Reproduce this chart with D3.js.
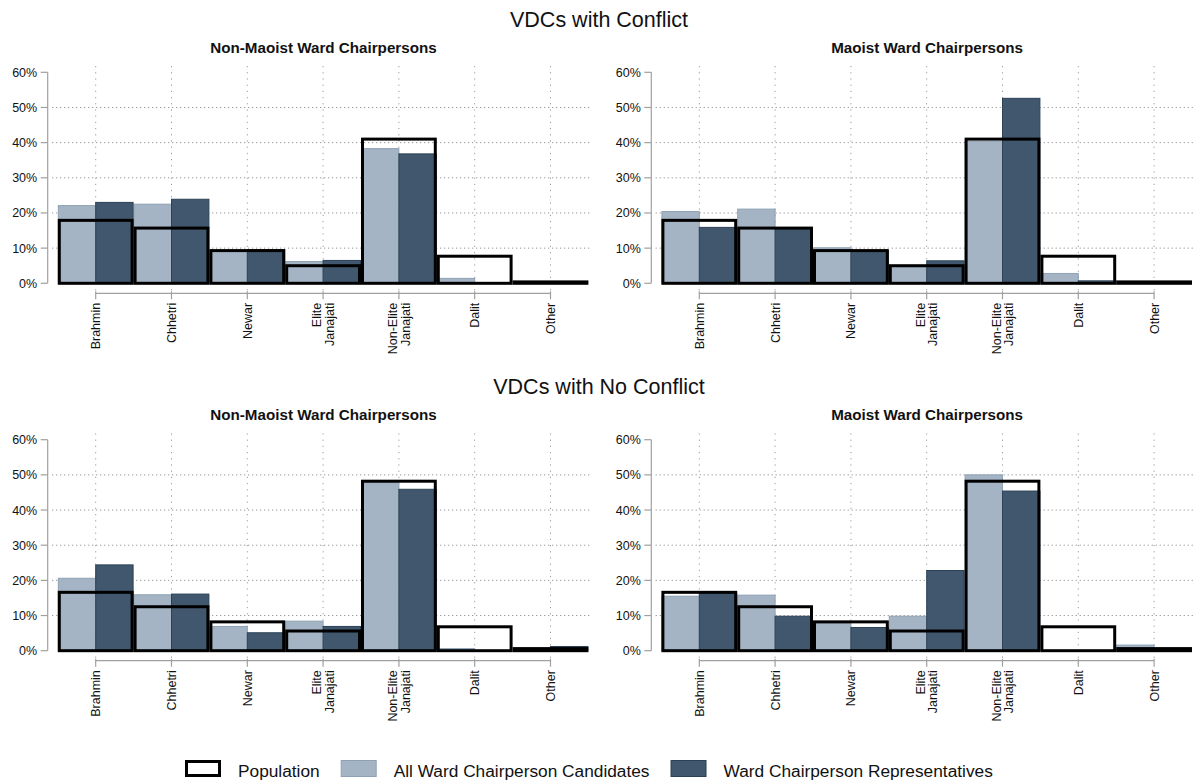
<!DOCTYPE html>
<html>
<head>
<meta charset="utf-8">
<script src="https://cdn.jsdelivr.net/npm/d3@7"></script>
<style>
  body { margin: 0; background: #fff; }
  svg text { font-family: "Liberation Sans", Arial, sans-serif; fill: #111; }
</style>
</head>
<body>
<svg id="chart" width="1198" height="783"></svg>
<script>
// Caste / ethnic groups along the x axis
const categories = ["Brahmin", "Chhetri", "Newar", "Elite Janajati", "Non-Elite Janajati", "Dalit", "Other"];
const categoryLabels = [["Brahmin"], ["Chhetri"], ["Newar"], ["Elite", "Janajati"], ["Non-Elite", "Janajati"], ["Dalit"], ["Other"]];
const yTicks = [0, 10, 20, 30, 40, 50, 60];

// Share of population (%) by group
const populationConflict   = [17.9, 15.7, 9.3, 5.0, 41.0, 7.7, 0.4];
const populationNoConflict = [16.6, 12.5, 8.2, 5.6, 48.2, 6.8, 0.6];

// VDCs with conflict
const candNonMaoistConflict = [22.1, 22.5, 9.2, 6.2, 38.3, 1.4, 0];
const repNonMaoistConflict  = [23.0, 23.9, 9.5, 6.5, 36.8, 0, 0];
const candMaoistConflict    = [20.4, 21.1, 10.1, 4.6, 40.4, 2.8, 0];
const repMaoistConflict     = [15.9, 15.5, 9.3, 6.4, 52.6, 0.7, 0];

// VDCs with no conflict
const candNonMaoistNoConflict = [20.6, 15.9, 6.9, 8.4, 47.8, 0.6, 0.3];
const repNonMaoistNoConflict  = [24.4, 16.1, 5.1, 6.9, 45.9, 0, 1.2];
const candMaoistNoConflict    = [15.5, 15.8, 7.9, 9.8, 50.0, 0, 1.6];
const repMaoistNoConflict     = [16.3, 9.8, 6.6, 22.8, 45.4, 0, 0];

const sectionTitles = ["VDCs with Conflict", "VDCs with No Conflict"];
const panelTitles = ["Non-Maoist Ward Chairpersons", "Maoist Ward Chairpersons"];
const legendLabels = ["Population", "All Ward Chairperson Candidates", "Ward Chairperson Representatives"];

const panels = [
  { row: 0, col: 0, pop: populationConflict,   cand: candNonMaoistConflict,   rep: repNonMaoistConflict },
  { row: 0, col: 1, pop: populationConflict,   cand: candMaoistConflict,      rep: repMaoistConflict },
  { row: 1, col: 0, pop: populationNoConflict, cand: candNonMaoistNoConflict, rep: repNonMaoistNoConflict },
  { row: 1, col: 1, pop: populationNoConflict, cand: candMaoistNoConflict,    rep: repMaoistNoConflict }
];

const LIGHT = "#a4b4c4", LIGHT_EDGE = "#8ea1b4";
const DARK = "#40576d", DARK_EDGE = "#2c4156";
const AXIS = "#a0a0a0", GRID = "#9a9a9a";

const svg = d3.select("#chart");

// panel geometry: y-axis position and top (60%) line of each panel
const colX = [47.7, 651.3];
const rowTop = [72.3, 439.7];
const plotH = 211;

const x = d3.scaleBand().domain(categories).range([10.1, 540.7]).padding(0);
const y = d3.scaleLinear().domain([0, 60]).range([plotH, 0]);

panels.forEach(p => {
  const g = svg.append("g").attr("transform", `translate(${colX[p.col]},${rowTop[p.row]})`);

  // horizontal grid
  g.append("g").selectAll("line").data(yTicks.filter(t => t > 0 && t < 60)).join("line")
    .attr("x1", 4.3).attr("x2", 542.3)
    .attr("y1", d => y(d)).attr("y2", d => y(d))
    .attr("stroke", GRID).attr("stroke-width", 1).attr("stroke-dasharray", "1.3,2.7");

  // vertical grid at category centres
  g.append("g").selectAll("line").data(categories).join("line")
    .attr("x1", d => x(d) + x.bandwidth() / 2).attr("x2", d => x(d) + x.bandwidth() / 2)
    .attr("y1", -6.3).attr("y2", 221)
    .attr("stroke", GRID).attr("stroke-width", 1).attr("stroke-dasharray", "1.2,5");

  const half = x.bandwidth() / 2;

  // candidates (left half of each band)
  g.append("g").selectAll("rect").data(categories).join("rect")
    .attr("x", d => x(d) + 0.5)
    .attr("width", half - 0.5)
    .attr("y", (d, i) => y(p.cand[i]))
    .attr("height", (d, i) => y(0) - y(p.cand[i]))
    .attr("fill", LIGHT).attr("stroke", LIGHT_EDGE).attr("stroke-width", (d, i) => p.cand[i] > 0 ? 1 : 0);

  // representatives (right half)
  g.append("g").selectAll("rect").data(categories).join("rect")
    .attr("x", d => x(d) + half)
    .attr("width", half - 0.5)
    .attr("y", (d, i) => y(p.rep[i]))
    .attr("height", (d, i) => y(0) - y(p.rep[i]))
    .attr("fill", DARK).attr("stroke", DARK_EDGE).attr("stroke-width", (d, i) => p.rep[i] > 0 ? 1 : 0);

  // population outline across the whole band
  g.append("g").selectAll("rect").data(categories).join("rect")
    .attr("x", d => x(d) + 1.5)
    .attr("width", x.bandwidth() - 3)
    .attr("y", (d, i) => y(p.pop[i]))
    .attr("height", (d, i) => y(0) - y(p.pop[i]))
    .attr("fill", "none").attr("stroke", "#000").attr("stroke-width", 3);

  // y axis
  const ya = g.append("g");
  ya.append("line").attr("x1", 0).attr("x2", 0).attr("y1", y(60)).attr("y2", y(0))
    .attr("stroke", AXIS).attr("stroke-width", 1.2);
  ya.selectAll("line.tk").data(yTicks).join("line").attr("class", "tk")
    .attr("x1", -7).attr("x2", 0).attr("y1", d => y(d)).attr("y2", d => y(d))
    .attr("stroke", AXIS).attr("stroke-width", 1.2);
  ya.selectAll("text").data(yTicks).join("text")
    .attr("x", -10.5).attr("y", d => y(d)).attr("dy", "0.36em")
    .attr("text-anchor", "end").attr("font-size", "12.5px")
    .text(d => d + "%");

  // x axis
  const xa = g.append("g").attr("transform", "translate(0,221)");
  const cx = d => x(d) + half;
  xa.append("line").attr("x1", cx(categories[0])).attr("x2", cx(categories[categories.length - 1]))
    .attr("y1", 0).attr("y2", 0).attr("stroke", AXIS).attr("stroke-width", 1.2);
  xa.selectAll("line.tk").data(categories).join("line").attr("class", "tk")
    .attr("x1", cx).attr("x2", cx).attr("y1", -2).attr("y2", 6)
    .attr("stroke", AXIS).attr("stroke-width", 1.2);
  const lbl = xa.selectAll("text").data(categories).join("text")
    .attr("transform", d => `translate(${cx(d)},9.5) rotate(-90)`)
    .attr("text-anchor", "end").attr("font-size", "12.5px");
  lbl.each(function(d, i) {
    const lines = categoryLabels[i];
    const t = d3.select(this);
    lines.forEach((s, k) => {
      const off = lines.length === 1 ? 0.36 : (k === 0 ? -0.14 : 0.86);
      t.append("tspan").attr("x", 0).attr("y", 0).attr("dy", off + "em").text(s);
    });
  });

  // panel title
  g.append("text").attr("x", 275.8).attr("y", -19.3).attr("text-anchor", "middle")
    .attr("font-size", "15.2px").attr("font-weight", "bold")
    .text(panelTitles[p.col]);
});

// section titles
svg.selectAll("text.section").data(sectionTitles).join("text").attr("class", "section")
  .attr("x", 599).attr("y", (d, i) => 27 + i * 367.4)
  .attr("text-anchor", "middle").attr("font-size", "21.5px")
  .text(d => d);

// legend
const lg = svg.append("g");
const swatch = [
  { fill: "#fff", stroke: "#000", sw: 3 },
  { fill: LIGHT, stroke: LIGHT_EDGE, sw: 1 },
  { fill: DARK, stroke: DARK_EDGE, sw: 1 }
];
let lx = 185;
legendLabels.forEach((label, i) => {
  const s = swatch[i];
  const inset = s.sw / 2;
  lg.append("rect").attr("x", lx + inset).attr("y", 760 + inset)
    .attr("width", 36 - s.sw).attr("height", 17 - s.sw)
    .attr("fill", s.fill).attr("stroke", s.stroke).attr("stroke-width", s.sw);
  const t = lg.append("text").attr("x", lx + 53).attr("y", 776.5)
    .attr("font-size", "17.3px").text(label);
  const w = t.node().getComputedTextLength();
  lx = lx + 53 + w + 21;
});
</script>
</body>
</html>
